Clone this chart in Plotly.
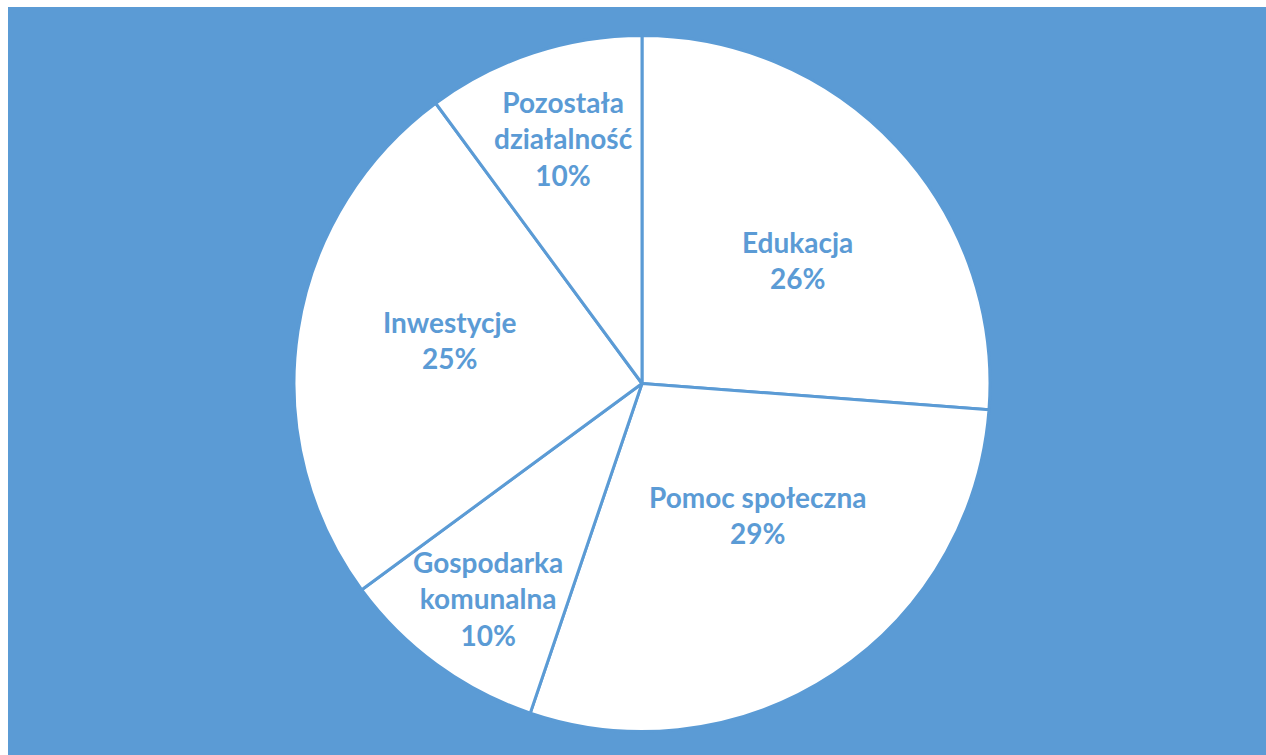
import math
import plotly.graph_objects as go

categories = ["Edukacja", "Pomoc społeczna", "Gospodarka<br>komunalna", "Inwestycje", "Pozostała<br>działalność"]
values = [26.2, 29.0, 9.7, 25.0, 10.1]

# label placement (angle clockwise from 12 o'clock, fraction of radius)
label_angle = [52.0, 138.7, 215.3, 282.4, 342.3]
label_frac = [0.571, 0.510, 0.763, 0.564, 0.738]

BLUE = "#5B9BD5"
W, H = 1266, 755
cx, cy, r = 642, 383.5, 348

fig = go.Figure(go.Pie(
    labels=categories,
    values=values,
    sort=False,
    direction="clockwise",
    rotation=0,
    marker=dict(colors=["white"] * len(values), line=dict(color=BLUE, width=3)),
    textinfo="none",
    hoverinfo="skip",
    showlegend=False,
    domain=dict(x=[(cx - r) / W, (cx + r) / W], y=[(H - cy - r) / H, (H - cy + r) / H]),
))

total = sum(values)
annotations = []
for lab, v, a, f in zip(categories, values, label_angle, label_frac):
    th = math.radians(a)
    px = 641 + f * 347 * math.sin(th)
    py = 382 - f * 347 * math.cos(th)
    annotations.append(dict(
        x=px / W, y=(H - py) / H, xref="paper", yref="paper",
        text=f"{lab}<br>{round(100 * v / total)}%", showarrow=False,
        xanchor="center", yanchor="middle",
        font=dict(family="Lato", size=28, color=BLUE, weight="bold"),
    ))

fig.update_layout(
    width=W, height=H,
    margin=dict(l=0, r=0, t=0, b=0),
    paper_bgcolor="white",
    annotations=annotations,
    shapes=[dict(type="rect", xref="paper", yref="paper", x0=8 / W, x1=1, y0=0, y1=(H - 7) / H,
                 fillcolor=BLUE, line=dict(width=0), layer="below")],
)

fig.write_html("out.html", config={"displayModeBar": False})
with open("out.html", encoding="utf-8") as fh:
    html = fh.read()
html = html.replace("<body>", '<body style="margin:0;overflow:hidden">', 1)
with open("out.html", "w", encoding="utf-8") as fh:
    fh.write(html)
